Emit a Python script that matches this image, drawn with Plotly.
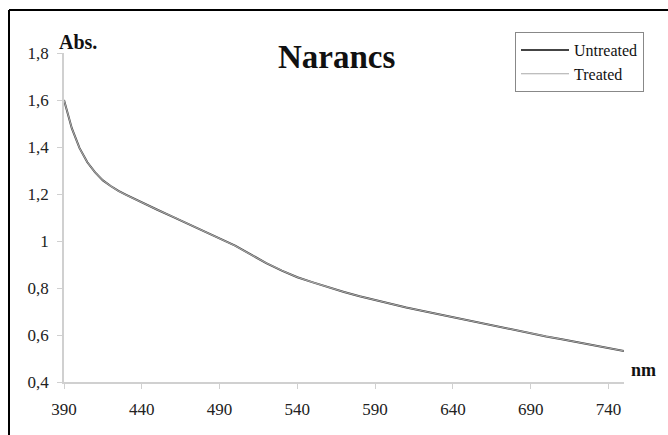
import plotly.graph_objects as go

wavelength = [390, 395, 400, 405, 410, 415, 420, 425, 430, 440, 450, 460, 470, 480, 490,
              500, 510, 520, 530, 540, 550, 560, 570, 580, 590, 600, 610, 620, 630, 640,
              650, 660, 670, 680, 690, 700, 710, 720, 730, 740, 750]
untreated = [1.600, 1.480, 1.395, 1.335, 1.292, 1.258, 1.234, 1.213, 1.196, 1.163, 1.133,
             1.103, 1.072, 1.043, 1.012, 0.980, 0.943, 0.906, 0.874, 0.846, 0.824, 0.803,
             0.783, 0.765, 0.748, 0.732, 0.717, 0.703, 0.689, 0.675, 0.661, 0.647, 0.634,
             0.620, 0.607, 0.594, 0.582, 0.570, 0.557, 0.545, 0.532]
treated = [1.600, 1.480, 1.395, 1.335, 1.292, 1.258, 1.234, 1.213, 1.196, 1.163, 1.133,
           1.103, 1.072, 1.043, 1.012, 0.980, 0.943, 0.906, 0.874, 0.846, 0.824, 0.803,
           0.783, 0.765, 0.748, 0.732, 0.717, 0.703, 0.689, 0.675, 0.661, 0.647, 0.634,
           0.620, 0.607, 0.594, 0.582, 0.570, 0.557, 0.545, 0.532]

x_ticks = [390, 440, 490, 540, 590, 640, 690, 740]
y_ticks = [0.4, 0.6, 0.8, 1.0, 1.2, 1.4, 1.6, 1.8]
y_tick_text = ["0,4", "0,6", "0,8", "1", "1,2", "1,4", "1,6", "1,8"]

SERIF = "Liberation Serif, Times New Roman, serif"

fig = go.Figure()
fig.add_trace(go.Scatter(x=wavelength, y=untreated, mode="lines", name="Untreated",
                         line=dict(color="#444444", width=2)))
fig.add_trace(go.Scatter(x=wavelength, y=treated, mode="lines", name="Treated",
                         line=dict(color="#a8a8a8", width=1.1)))

W, H = 668, 435
L, R, T, B = 64, 44, 53, 53
pw, ph = W - L - R, H - T - B

def px(xp):
    return (xp - L) / pw

def py(yp):
    return (H - B - yp) / ph

fig.update_layout(
    width=W, height=H,
    margin=dict(l=L, r=R, t=T, b=B),
    paper_bgcolor="white", plot_bgcolor="white",
    font=dict(family=SERIF, size=17, color="#222222"),
    showlegend=True,
    legend=dict(x=px(515), y=py(32), xanchor="left", yanchor="top",
                bordercolor="#888888", borderwidth=1, bgcolor="white",
                font=dict(family=SERIF, size=16, color="#111111"),
                tracegroupgap=0, itemwidth=48),
    xaxis=dict(range=[390, 750], tickvals=x_ticks, showgrid=False, zeroline=False,
               showline=True, linecolor="#d0d0d0", linewidth=1.5,
               ticks="outside", ticklen=5, tickcolor="#d0d0d0",
               ticklabelstandoff=6,
               tickfont=dict(family=SERIF, size=17, color="#222222")),
    yaxis=dict(range=[0.4, 1.8], tickvals=y_ticks, ticktext=y_tick_text,
               showgrid=False, zeroline=False,
               showline=True, linecolor="#d0d0d0", linewidth=1.5,
               ticks="outside", ticklen=5, tickcolor="#d0d0d0",
               ticklabelstandoff=5,
               tickfont=dict(family=SERIF, size=17, color="#222222")),
    annotations=[
        dict(text="<b>Narancs</b>", x=px(336), y=py(57), xref="paper", yref="paper",
             xanchor="center", yanchor="middle", showarrow=False,
             font=dict(family=SERIF, size=33, color="#111111")),
        dict(text="<b>Abs.</b>", x=px(57), y=py(42), xref="paper", yref="paper",
             xanchor="left", yanchor="middle", showarrow=False,
             font=dict(family=SERIF, size=20, color="#111111")),
        dict(text="<b>nm</b>", x=px(629), y=py(370), xref="paper", yref="paper",
             xanchor="left", yanchor="middle", showarrow=False,
             font=dict(family=SERIF, size=18, color="#111111")),
    ],
    shapes=[
        dict(type="line", xref="paper", yref="paper", x0=px(9), x1=px(680),
             y0=py(10), y1=py(10), line=dict(color="black", width=2)),
        dict(type="line", xref="paper", yref="paper", x0=px(9), x1=px(9),
             y0=py(10), y1=py(450), line=dict(color="black", width=2)),
    ],
)

fig.write_html("out.html", config={"displayModeBar": False},
               post_script="document.body.style.margin='0';document.body.style.overflow='hidden';")
